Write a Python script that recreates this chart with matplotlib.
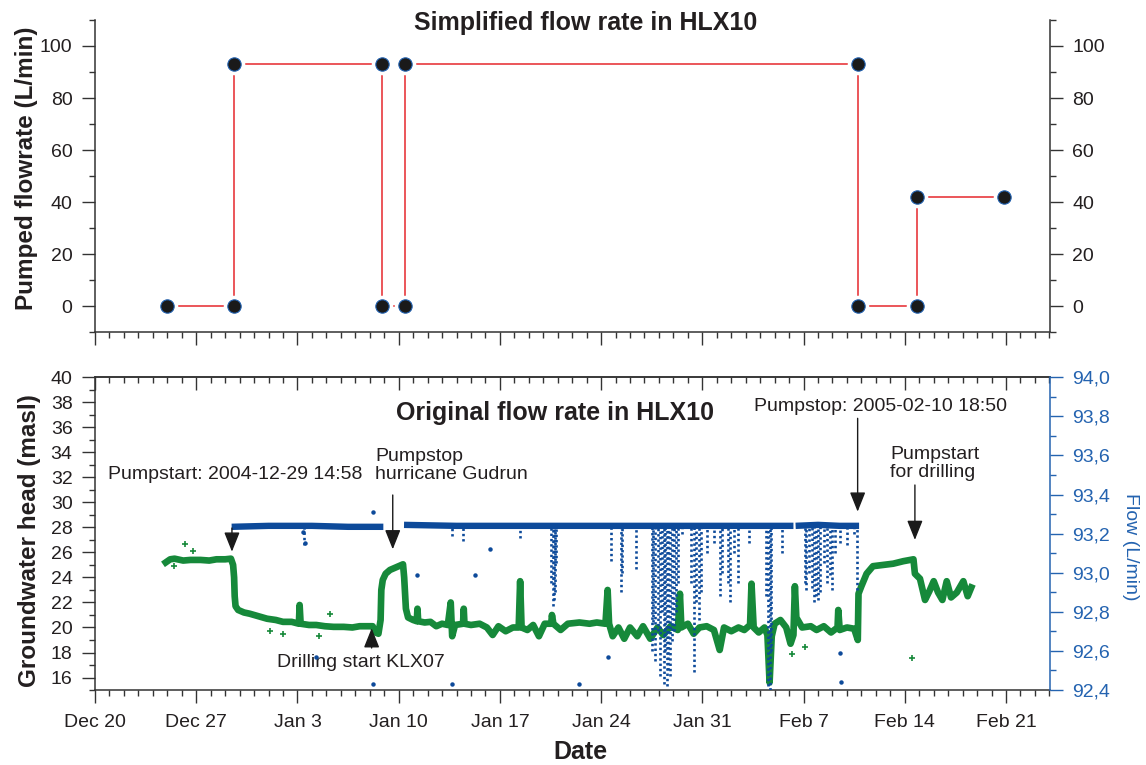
import datetime as dt
import numpy as np
import matplotlib
matplotlib.use("Agg")
import matplotlib.pyplot as plt
import matplotlib.dates as mdates
from matplotlib.ticker import MultipleLocator, FuncFormatter, NullFormatter

plt.rcParams['font.family'] = ['Liberation Sans', 'DejaVu Sans']

# days counted from 2004-12-20 00:00
start = dt.datetime(2004, 12, 20)

# simplified flow rate (step corners)
simp_days = [5.0, 9.62, 9.62, 19.87, 19.87, 21.45, 21.45, 52.78, 52.78, 56.83, 56.83, 62.85]
simp_flow = [0, 0, 93, 93, 0, 0, 93, 93, 0, 0, 42, 42]

# groundwater head (masl)
head_days = [4.89, 5.2, 5.5, 6.1, 6.6, 7.3, 7.9, 8.4, 9.0, 9.4, 9.55, 9.62, 9.66, 9.72, 9.9,
             10.3, 10.7, 11.3, 11.9, 12.5, 13.0, 13.6, 14.1, 14.15, 14.22, 14.8, 15.3, 15.9,
             16.5, 17.2, 17.8, 18.3, 18.8, 19.2, 19.4, 19.6, 19.75, 19.8, 19.9, 20.1, 20.4,
             20.8, 21.3, 21.38, 21.5, 21.65, 22.0, 22.25, 22.3, 22.35, 22.8, 23.2, 23.6, 24.0,
             24.4, 24.6, 24.7, 24.9, 25.45, 25.5, 25.55, 26.0, 26.6, 27.1, 27.5, 27.9, 28.4,
             28.9, 29.3, 29.4, 29.5, 29.9, 30.3, 30.7, 31.1, 31.55, 31.6, 31.7, 32.2, 32.7,
             33.5, 34.2, 34.7, 35.3, 35.45, 35.55, 35.8, 36.2, 36.6, 37.0, 37.5, 37.9, 38.4,
             38.9, 39.3, 39.8, 40.3, 40.45, 40.55, 41.0, 41.4, 41.8, 42.3, 42.8, 43.2, 43.5,
             44.0, 44.5, 44.9, 45.3, 45.4, 45.55, 45.9, 46.3, 46.5, 46.65, 46.8, 47.0, 47.4,
             47.8, 48.1, 48.3, 48.4, 48.5, 48.9, 49.5, 49.9, 50.4, 50.9, 51.35, 51.4, 51.5,
             52.0, 52.5, 52.75, 52.8, 53.0, 53.36, 53.8, 54.5, 55.2, 55.9, 56.6, 56.7, 57.05,
             57.4, 57.7, 58.0, 58.3, 58.6, 58.9, 59.2, 59.6, 60.05, 60.35, 60.6]
head_vals = [25.2, 25.45, 25.5, 25.35, 25.4, 25.4, 25.35, 25.45, 25.45, 25.5, 25.0, 24.0, 22.5,
             21.7, 21.4, 21.2, 21.1, 20.9, 20.7, 20.6, 20.45, 20.45, 20.3, 21.8, 20.3, 20.2,
             20.2, 20.1, 20.05, 20.05, 20.0, 20.1, 20.1, 20.1, 19.6, 19.5, 20.6, 23.0, 23.8,
             24.3, 24.6, 24.8, 25.05, 24.0, 21.5, 20.8, 20.6, 20.5, 21.5, 20.5, 20.4, 20.45,
             20.1, 20.3, 20.2, 22.0, 19.3, 20.2, 20.3, 21.5, 20.3, 20.2, 20.3, 20.0, 19.4,
             20.1, 19.7, 20.0, 20.0, 23.7, 20.0, 19.8, 20.2, 19.3, 20.3, 20.3, 21.0, 20.3,
             19.8, 20.3, 20.4, 20.3, 20.4, 20.3, 23.0, 20.3, 19.3, 20.0, 19.1, 20.0, 19.3,
             20.1, 19.1, 20.0, 19.4, 20.1, 19.8, 22.7, 20.0, 20.3, 19.5, 20.0, 20.1, 19.8,
             18.2, 20.0, 19.7, 20.0, 19.8, 20.2, 23.5, 20.0, 19.6, 20.0, 19.4, 15.6, 19.3,
             20.3, 20.6, 20.0, 18.7, 19.4, 23.3, 20.8, 20.0, 20.1, 19.8, 20.1, 19.6, 20.0,
             21.4, 19.8, 20.0, 19.9, 19.0, 22.7, 23.3, 24.3, 24.9, 25.0, 25.1, 25.3, 25.45,
             24.3, 23.9, 22.2, 22.9, 23.7, 22.8, 22.2, 23.7, 22.4, 22.8, 23.7, 22.5, 23.2]
# scattered single head readings
head_out_days = [5.44, 6.22, 6.75, 12.1, 13.0, 15.5, 16.25, 48.2, 49.1, 56.5]
head_out_vals = [24.9, 26.7, 26.1, 19.75, 19.5, 19.3, 21.1, 17.9, 18.4, 17.6]

# flow (L/min), three recorded stretches
flow_seg_days = [[9.45, 12.0, 15.0, 17.5, 19.94],
                 [21.37, 25.0, 30.0, 35.0, 40.0, 45.0, 48.3],
                 [48.45, 50.0, 51.5, 52.84]]
flow_seg_vals = [[93.235, 93.24, 93.24, 93.235, 93.235],
                 [93.245, 93.24, 93.24, 93.24, 93.24, 93.24, 93.24],
                 [93.24, 93.245, 93.24, 93.24]]
# dropouts: day and lowest reading
drop_days = [14.45, 24.67, 25.47, 29.4, 31.55, 31.65, 31.72, 31.8, 31.9, 35.7, 36.4, 36.45,
             37.4, 38.5, 38.6, 38.75, 38.9, 39.05, 39.2, 39.35, 39.45, 39.55, 39.65, 39.75,
             39.9, 40.05, 40.2, 40.35, 40.6, 41.2, 41.4, 41.55, 41.75, 41.9, 42.3, 42.8, 43.2,
             43.35, 43.75, 43.9, 44.2, 44.5, 45.2, 46.4, 46.55, 46.65, 46.75, 47.5, 49.1, 49.2,
             49.4, 49.55, 49.7, 49.85, 50.0, 50.15, 50.4, 50.65, 50.8, 50.95, 51.2, 51.5, 52.0,
             52.5, 52.68]
drop_low = [93.14, 93.19, 93.16, 93.18, 92.95, 92.83, 92.86, 92.9, 93.05, 93.06, 92.9, 93.0,
            93.02, 92.6, 92.75, 92.55, 92.7, 92.47, 92.8, 92.43, 92.6, 92.42, 92.5, 92.47,
            92.65, 92.7, 92.8, 92.95, 93.2, 92.95, 92.49, 92.85, 92.76, 92.9, 93.1, 93.15,
            92.88, 93.0, 92.95, 92.85, 93.1, 92.95, 93.15, 92.88, 92.42, 92.4, 92.6, 93.1,
            92.95, 92.91, 93.0, 92.92, 92.85, 92.88, 92.86, 92.9, 93.05, 92.95, 92.99, 92.91,
            93.1, 93.15, 93.14, 93.2, 92.91]
flow_out_days = [19.25, 14.4, 14.5, 19.25, 15.3, 24.7, 33.5, 22.3, 26.3, 27.3, 35.5, 51.5, 51.6]
flow_out_vals = [93.31, 93.21, 93.15, 92.43, 92.57, 92.43, 92.43, 92.99, 92.99, 93.12, 92.57,
                 92.59, 92.44]

base = mdates.date2num(start)
def dn(days):
    return base + np.asarray(days, dtype=float)

RED = '#e8383d'
GREEN = '#16893a'
BLUE = '#0d4a9a'
AXBLUE = '#2463b0'
TXT = '#231f20'
SP = '#333333'

fig = plt.figure(figsize=(11.46, 7.65), dpi=100)
ax1 = fig.add_axes([0.0829, 0.5656, 0.8333, 0.4083])
ax2 = fig.add_axes([0.0829, 0.098, 0.8333, 0.4088])

xlim = (base, base + 66.04)

def date_fmt(x, pos):
    d = mdates.num2date(x)
    return d.strftime('%b ') + str(d.day)

for ax in (ax1, ax2):
    ax.set_xlim(*xlim)
    ax.xaxis.set_major_locator(mdates.WeekdayLocator(byweekday=mdates.MO))
    ax.xaxis.set_minor_locator(mdates.DayLocator())
    for s in ax.spines.values():
        s.set_color(SP)
        s.set_linewidth(1.1)
    ax.tick_params(which='major', length=9.2, width=1.0, color=SP, labelsize=14,
                   labelcolor=TXT, direction='out')
    ax.tick_params(which='minor', length=4.6, width=1.0, color=SP, direction='out')

# ---- top panel
ax1.plot(dn(simp_days), simp_flow, color=RED, lw=1.2, zorder=2)
ax1.plot(dn(simp_days), simp_flow, 'o', ms=14.5, mfc='white', mec='white', zorder=3)
ax1.plot(dn(simp_days), simp_flow, 'o', ms=9.6, mfc='#1a1a1a', mec='#1f5fae', mew=0.8, zorder=4)
ax1.set_ylim(-10, 110)
ax1.yaxis.set_major_locator(MultipleLocator(20))
ax1.yaxis.set_minor_locator(MultipleLocator(10))
ax1.spines['top'].set_visible(False)
ax1.tick_params(axis='y', which='both', left=True, right=True, labelleft=True, labelright=True)
ax1.tick_params(axis='y', which='major', pad=7)
ax1.xaxis.set_major_formatter(NullFormatter())
fig.text(586 / 1146, 1 - 23 / 765, 'Simplified flow rate in HLX10', ha='center', va='center',
         fontsize=18, fontweight='bold', color=TXT)
fig.text(27 / 1146, 1 - 168 / 765, 'Pumped flowrate (L/min)', rotation=90, ha='center',
         va='center', fontsize=17.5, fontweight='bold', color=TXT)

# ---- bottom panel
ax2.plot(dn(head_days), head_vals, color=GREEN, lw=4.8, solid_joinstyle='round', zorder=2)
ax2.plot(dn(head_out_days), head_out_vals, '+', color=GREEN, ms=5, mew=1.2, zorder=2)
ax2.set_ylim(15, 40)
ax2.yaxis.set_major_locator(MultipleLocator(2))
ax2.yaxis.set_minor_locator(MultipleLocator(1))
ax2.tick_params(axis='y', which='major', pad=7)
ax2.tick_params(axis='x', which='major', pad=8)
ax2.xaxis.set_major_formatter(FuncFormatter(date_fmt))
ax2.spines['right'].set_visible(False)

top = ax2.secondary_xaxis('top')
top.xaxis.set_major_locator(mdates.WeekdayLocator(byweekday=mdates.MO))
top.xaxis.set_minor_locator(mdates.DayLocator())
top.xaxis.set_major_formatter(NullFormatter())
top.tick_params(which='major', direction='in', length=9.2, width=1.0, color=SP)
top.tick_params(which='minor', direction='in', length=4.6, width=1.0, color=SP)
top.spines['top'].set_color(SP)
top.spines['top'].set_linewidth(1.1)

ax2r = ax2.twinx()
ax2r.set_xlim(*xlim)
ax2r.set_ylim(92.4, 94.0)
for d, v in zip(flow_seg_days, flow_seg_vals):
    ax2r.plot(dn(d), v, color=BLUE, lw=4.6, solid_capstyle='butt', zorder=3)
ax2r.vlines(dn(drop_days), drop_low, 93.24, colors=BLUE, linestyles=(0, (0.9, 1.1)),
            linewidths=1.9, zorder=3)
ax2r.plot(dn(flow_out_days), flow_out_vals, 'o', color=BLUE, ms=2.2, zorder=3)
for k in ('top', 'left', 'bottom'):
    ax2r.spines[k].set_visible(False)
ax2r.spines['right'].set_color(AXBLUE)
ax2r.spines['right'].set_linewidth(1.1)
ax2r.yaxis.set_major_locator(MultipleLocator(0.2))
ax2r.yaxis.set_minor_locator(MultipleLocator(0.1))
ax2r.yaxis.set_major_formatter(FuncFormatter(lambda v, p: f'{v:.1f}'.replace('.', ',')))
ax2r.tick_params(axis='y', which='major', length=9.2, width=1.0, color=AXBLUE, labelsize=14,
                 labelcolor=AXBLUE, pad=7)
ax2r.tick_params(axis='y', which='minor', length=4.6, width=1.0, color=AXBLUE)

fig.text(30 / 1146, 1 - 541 / 765, 'Groundwater head (masl)', rotation=90, ha='center',
         va='center', fontsize=17.5, fontweight='bold', color=TXT)
fig.text(1130 / 1146, 1 - 547 / 765, 'Flow (L/min)', rotation=270, ha='center', va='center',
         fontsize=14, color=AXBLUE)
fig.text(580 / 1146, 1 - 752 / 765, 'Date', ha='center', va='center', fontsize=18,
         fontweight='bold', color=TXT)

# annotations
ax2.text(dn(31.81), 37.15, 'Original flow rate in HLX10', ha='center', va='center',
         fontsize=18, fontweight='bold', color=TXT)
notes = [('Pumpstart: 2004-12-29 14:58', 0.9, 32.19),
         ('Pumpstop\nhurricane Gudrun', 19.36, 32.95),
         ('Drilling start KLX07', 12.59, 17.24),
         ('Pumpstop: 2005-02-10 18:50', 45.57, 37.63),
         ('Pumpstart\nfor drilling', 54.98, 33.11)]
for txt, xd, yv in notes:
    ax2.text(dn(xd), yv, txt, ha='left', va='center', fontsize=14, color=TXT, linespacing=1.1,
             zorder=5)

arrows = [(9.47, 27.95, 26.06), (20.59, 30.59, 26.25), (19.13, 18.36, 19.94),
          (52.74, 36.72, 29.26), (56.7, 31.39, 27.0)]
for xd, y0, y1 in arrows:
    ax2r.annotate('', xy=(dn(xd), ax2r.transData.inverted().transform(
                      ax2.transData.transform((dn(xd), y1)))[1]),
                  xytext=(dn(xd), ax2r.transData.inverted().transform(
                      ax2.transData.transform((dn(xd), y0)))[1]),
                  arrowprops=dict(arrowstyle='-|>,head_length=0.6,head_width=0.24',
                                  color='#1a1a1a', lw=1.0, mutation_scale=20,
                                  shrinkA=0, shrinkB=0), zorder=6)

fig.savefig('out.png', dpi=100)
